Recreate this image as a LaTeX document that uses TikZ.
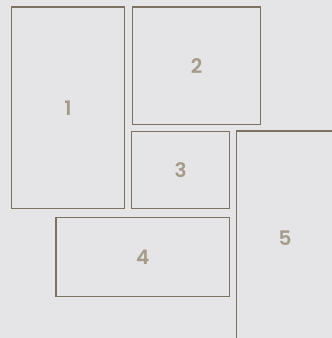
\documentclass[tikz,border=0pt]{standalone}
\usepackage{fontspec}
\setmainfont{Poppins}[BoldFont={Poppins SemiBold}]
\usepackage{xcolor}
\usepackage{tikz}
\usetikzlibrary{positioning}
\definecolor{panelbg}{RGB}{229,229,231}
\definecolor{panelline}{RGB}{125,114,96}
\definecolor{panelnum}{RGB}{166,155,136}

\begin{document}
\begin{tikzpicture}[
            x=1pt, y=-1pt,
            panel/.style={rectangle, draw=panelline, line width=1.2pt, inner sep=0pt, align=center, text=panelnum, font=\fontsize{20}{20}\selectfont\bfseries, text depth=-2pt}
        ]
            \fill[panelbg] (0,0) rectangle (332,338);
            \useasboundingbox (0,0) rectangle (332,338);
            \clip (0,0) rectangle (332,338);
            \node[panel, minimum width=113pt, minimum height=201.5pt] (one) at (68,107.75) {1};
            \node[panel, minimum width=128pt, minimum height=117.5pt] (two) at (196.5,65.75) {2};
            \node[panel, minimum width=98pt, minimum height=77pt] (three) at (180.5,170) {3};
            \node[panel, minimum width=173.5pt, minimum height=79pt] (four) at (142.75,257) {4};
            \node[panel, minimum width=97pt, minimum height=214pt] (five) at (285,238) {5};
        \end{tikzpicture}
\end{document}
